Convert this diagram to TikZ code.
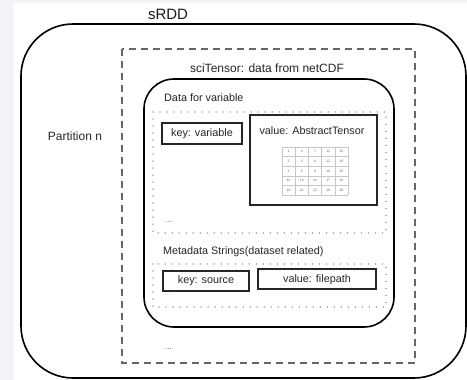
\documentclass[tikz,border=0pt]{standalone}
\usepackage{fontspec}
\setmainfont{Liberation Sans}
\tikzset{
  thickbox/.style={draw=black, line width=1.6pt},
  dashbox/.style={draw=black!60, line width=1.5pt, dash pattern=on 7pt off 5pt},
  dotbox/.style={draw=black!35, line width=1.6pt, dash pattern=on 0.01pt off 7pt, line cap=round},
  kvbox/.style={draw=black!85, line width=1.2pt},
  lbl/.style={inner sep=0pt, text=black!85, font=\fontsize{10.8}{12}\selectfont},
  biglbl/.style={inner sep=0pt, text=black!85, font=\fontsize{12}{14}\selectfont},
  cell/.style={inner sep=0pt, text=black!60, font=\fontsize{3.4}{4}\selectfont},
  gridline/.style={draw=black!22, line width=0.5pt}
}
\begin{document}
\begin{tikzpicture}[x=1pt, y=-1pt]
  % page background and canvas
  \fill[fill={rgb,255:red,243;green,244;blue,248}] (0,0) rectangle (467,380);
  \fill[white] (14,3) rectangle (467,380);
  \useasboundingbox (0,0) rectangle (467,380);

  % sRDD
  \node[inner sep=0pt, text=black!90, font=\fontsize{15}{17}\selectfont] (srdd) at (168,14) {sRDD};
  \draw[thickbox, rounded corners=52pt] (21,24) rectangle (466,378);
  \node[biglbl] (part) at (75,136) {Partition n};

  % sciTensor partition content
  \draw[dashbox] (122,49) rectangle (415,363);
  \node[biglbl] (sci) at (267,68) {sciTensor: data from netCDF};

  % data box
  \draw[thickbox, rounded corners=30pt] (144,79) rectangle (394,327);
  \node[lbl, anchor=west] (dfv) at (164,98) {Data for variable};

  % variable map
  \draw[dotbox] (153,112) rectangle (386,233);
  \node[kvbox, minimum width=80pt, minimum height=21pt, inner sep=0pt] (kvar) at (202,133.5) {};
  \node[lbl] at (kvar.center) {key: variable};
  \node[kvbox, minimum width=127pt, minimum height=90pt, inner sep=0pt] (vtens) at (313.5,160) {};
  \node[lbl] (vtlbl) at (312,131) {value: AbstractTensor};

  % sample matrix
  \begin{scope}[shift={(282,147)}]
    \foreach \i in {0,...,5} {
      \draw[gridline] (\i*13.2,0) -- (\i*13.2,48);
      \draw[gridline] (0,\i*9.6) -- (66,\i*9.6);
    }
    \foreach \row [count=\r from 0] in {{1,4,7,11,15},{2,5,8,12,19},{3,6,9,16,22},{10,13,14,17,24},{18,21,23,26,30}} {
      \foreach \v [count=\c from 0] in \row {
        \node[cell] at (\c*13.2+6.6, \r*9.6+4.8) {\v};
      }
    }
  \end{scope}

  \node[lbl, anchor=west, font=\fontsize{8}{9}\selectfont, text=black!60] (dots1) at (165,222) {...};

  % metadata map
  \node[lbl, anchor=west] (meta) at (163,252) {Metadata Strings(dataset related)};
  \draw[dotbox] (153,264) rectangle (386,307);
  \node[kvbox, minimum width=86pt, minimum height=20pt, inner sep=0pt] (ksrc) at (206,281) {};
  \node[lbl] at (ksrc.center) {key: source};
  \node[kvbox, minimum width=118pt, minimum height=20pt, inner sep=0pt] (vfp) at (317,279) {};
  \node[lbl] at ([yshift=-1pt]vfp.center) {value: filepath};
  \node[lbl, anchor=west, font=\fontsize{6}{7}\selectfont, text=black!45] (dots2) at (165,295) {...};

  \node[lbl, anchor=west, font=\fontsize{8}{9}\selectfont, text=black!60] (dots3) at (165,349) {...};
\end{tikzpicture}
\end{document}
